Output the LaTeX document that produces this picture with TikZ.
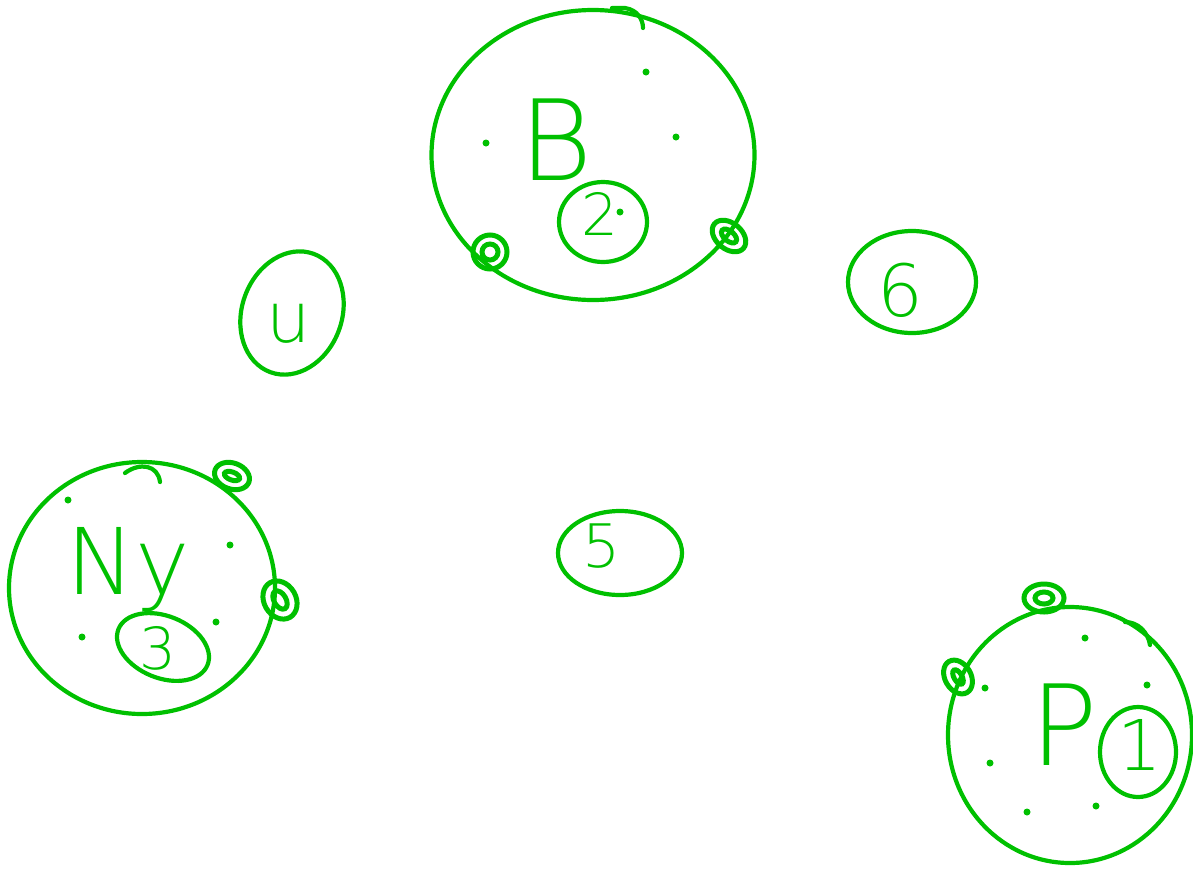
\documentclass[tikz,border=0pt]{standalone}
\usepackage{fontspec}
\setmainfont{DejaVu Sans}
\usetikzlibrary{shapes.geometric}
\definecolor{pen}{RGB}{0,192,0}
\tikzset{
  blob/.style={ellipse, draw=pen, line width=4.2pt, inner sep=0pt},
  knot/.style={ellipse, draw=pen, line width=5pt, inner sep=0pt},
  lbl/.style={text=pen, inner sep=0pt},
  spot/.style={circle, fill=pen, inner sep=0pt, minimum size=7pt},
  tick/.style={pen, line width=4.2pt, line cap=round}
}
\newcommand{\lf}[1]{\fontspec{DejaVu Sans ExtraLight}\fontsize{#1}{#1}\selectfont}
\begin{document}
\begin{tikzpicture}[x=1pt,y=-1pt]
\useasboundingbox (0,0) rectangle (1193,868);
% B group
\node[blob, minimum width=323pt, minimum height=290pt] (B) at (593,155) {};
\node[lbl, font=\lf{112}] (Bl) at (556,140) {B};
\node[blob, minimum width=88pt, minimum height=80pt] (c2) at (603,222) {};
\node[lbl, font=\lf{58}] (t2) at (600,214) {2};
\node[knot, minimum width=34pt, minimum height=34pt] (kB1) at (490,252) {};
\node[knot, minimum width=16pt, minimum height=16pt] (kB1i) at (490,252) {};
\node[knot, rotate=-40, minimum width=38pt, minimum height=26pt] (kB2) at (729,236) {};
\node[knot, rotate=-40, minimum width=18pt, minimum height=10pt] (kB2i) at (729,236) {};
\node[spot] (dB1) at (486,143) {};
\node[spot] (dB2) at (646,72) {};
\node[spot] (dB3) at (676,137) {};
\node[spot] (dB4) at (620,212) {};
\draw[tick] (612,8) -- (625,8) .. controls (638,10) and (643,20) .. (643,28);
% u
\node[blob, rotate=70, minimum width=126pt, minimum height=100pt] (u) at (292,313) {};
\node[lbl, font=\lf{70}] (tu) at (289,324) {u};
% 6
\node[blob, minimum width=128pt, minimum height=102pt] (c6) at (912,282) {};
\node[lbl, font=\lf{72}] (t6) at (900,290) {6};
% 5
\node[blob, minimum width=124pt, minimum height=84pt] (c5) at (620,553) {};
\node[lbl, font=\lf{60}] (t5) at (602,546) {5};
% Ny group
\node[blob, minimum width=266pt, minimum height=252pt] (Ny) at (142,588) {};
\node[lbl, font=\lf{92}] (tNy) at (128,570) {Ny};
\node[blob, rotate=-22, minimum width=96pt, minimum height=62pt] (c3) at (163,647) {};
\node[lbl, font=\lf{58}] (t3) at (158,648) {3};
\node[knot, rotate=-20, minimum width=36pt, minimum height=26pt] (kN1) at (232,476) {};
\node[knot, rotate=-20, minimum width=16pt, minimum height=8pt] (kN1i) at (232,476) {};
\node[knot, rotate=-60, minimum width=40pt, minimum height=32pt] (kN2) at (280,600) {};
\node[knot, rotate=-60, minimum width=20pt, minimum height=12pt] (kN2i) at (280,600) {};
\node[spot] (dN1) at (68,500) {};
\node[spot] (dN2) at (230,545) {};
\node[spot] (dN3) at (82,637) {};
\node[spot] (dN4) at (216,622) {};
\draw[tick] (125,473) .. controls (140,462) and (158,465) .. (160,482);
% P group
\node[blob, minimum width=244pt, minimum height=256pt] (P) at (1070,735) {};
\node[lbl, font=\lf{112}] (tP) at (1064,725) {P};
\node[blob, minimum width=76pt, minimum height=90pt] (c1) at (1138,752) {};
\node[lbl, font=\lf{70}] (t1) at (1140,745) {1};
\node[knot, minimum width=40pt, minimum height=28pt] (kP1) at (1044,598) {};
\node[knot, minimum width=18pt, minimum height=12pt] (kP1i) at (1044,598) {};
\node[knot, rotate=-60, minimum width=36pt, minimum height=26pt] (kP2) at (958,677) {};
\node[knot, rotate=-60, minimum width=16pt, minimum height=8pt] (kP2i) at (958,677) {};
\node[spot] (dP1) at (1085,638) {};
\node[spot] (dP2) at (985,688) {};
\node[spot] (dP3) at (1147,685) {};
\node[spot] (dP4) at (990,763) {};
\node[spot] (dP5) at (1027,812) {};
\node[spot] (dP6) at (1096,806) {};
\draw[tick] (1125,622) .. controls (1138,622) and (1148,632) .. (1150,645);
\end{tikzpicture}
\end{document}
